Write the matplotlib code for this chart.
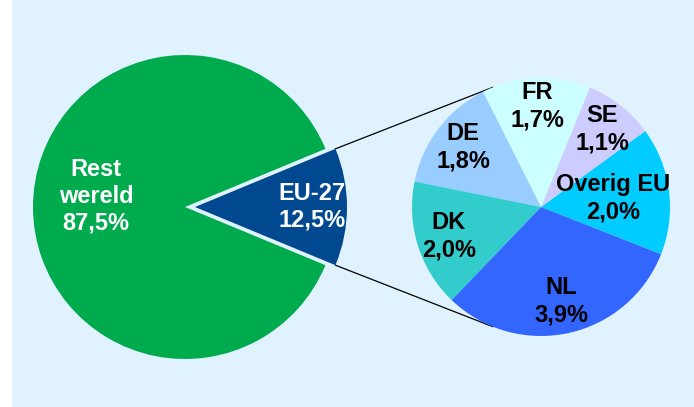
import numpy as np
import matplotlib.pyplot as plt
from matplotlib.patches import Rectangle

# data
main_labels = ['Rest\nwereld', 'EU-27']
main_values = [87.5, 12.5]
main_colors = ['#00AB4E', '#004990']

eu_labels = ['Overig EU', 'SE', 'FR', 'DE', 'DK', 'NL']
eu_values = [2.0, 1.1, 1.7, 1.8, 2.0, 3.9]
eu_colors = ['#00CCFF', '#CCCCFF', '#CCFFFF', '#99CCFF', '#33CCCC', '#3366FF']

W, H = 694, 407
fig = plt.figure(figsize=(W / 100, H / 100), dpi=100, facecolor='white')
ax = fig.add_axes([0, 0, 1, 1])
ax.add_patch(Rectangle((12, 0), W - 12, H, facecolor='#E0F2FD', edgecolor='none', zorder=0))

plt.rcParams['font.family'] = ['Liberation Sans', 'DejaVu Sans']
fs = 17

def fmt(v):
    return f'{v:.1f}'.replace('.', ',') + '%'

# big pie, EU slice centred on 0 deg and pulled out a little
c1 = (185, H - 207)
r1 = 152
gap = 10
eu_share = main_values[1] / sum(main_values)
start1 = -eu_share * 360 / 2
wedges1, _ = ax.pie(main_values[::-1], colors=main_colors[::-1], startangle=start1,
                    explode=[gap, 0], center=c1, radius=r1, frame=True,
                    wedgeprops=dict(linewidth=0))

rest_mid = np.deg2rad(173)
ax.text(c1[0] + 0.59 * r1 * np.cos(rest_mid), c1[1] + 0.59 * r1 * np.sin(rest_mid),
        f'{main_labels[0]}\n{fmt(main_values[0])}', color='white', fontsize=fs,
        fontweight='bold', ha='center', va='center', linespacing=1.2)
eu_c = (c1[0] + gap, c1[1])
ax.text(eu_c[0] + 0.77 * r1, eu_c[1],
        f'{main_labels[1]}\n{fmt(main_values[1])}', color='white', fontsize=fs,
        fontweight='bold', ha='center', va='center', linespacing=1.2)

# small pie
c2 = (541, H - 207)
r2 = 129
wedges2, _ = ax.pie(eu_values, colors=eu_colors, startangle=-21.5,
                    center=c2, radius=r2, frame=True, wedgeprops=dict(linewidth=0))

dists = [0.56, 0.77, 0.78, 0.76, 0.75, 0.75]
for w, lab, v, d in zip(wedges2, eu_labels, eu_values, dists):
    mid = np.deg2rad((w.theta1 + w.theta2) / 2)
    ax.text(c2[0] + d * r2 * np.cos(mid), c2[1] + d * r2 * np.sin(mid),
            f'{lab}\n{fmt(v)}', color='black', fontsize=fs, fontweight='bold',
            ha='center', va='center', linespacing=1.25)

# connector lines
eu_w = wedges1[0]
for ang_big, ang_small in [(eu_w.theta2, 112), (eu_w.theta1, 248)]:
    a = np.deg2rad(ang_big)
    p1 = (eu_c[0] + r1 * np.cos(a), eu_c[1] + r1 * np.sin(a))
    b = np.deg2rad(ang_small)
    p2 = (c2[0] + r2 * np.cos(b), c2[1] + r2 * np.sin(b))
    ax.plot([p1[0], p2[0]], [p1[1], p2[1]], color='black', linewidth=0.9, zorder=0.5)

ax.set_xlim(0, W)
ax.set_ylim(0, H)
ax.set_aspect('equal')
ax.axis('off')

fig.savefig('out.png', dpi=100, facecolor='white')
